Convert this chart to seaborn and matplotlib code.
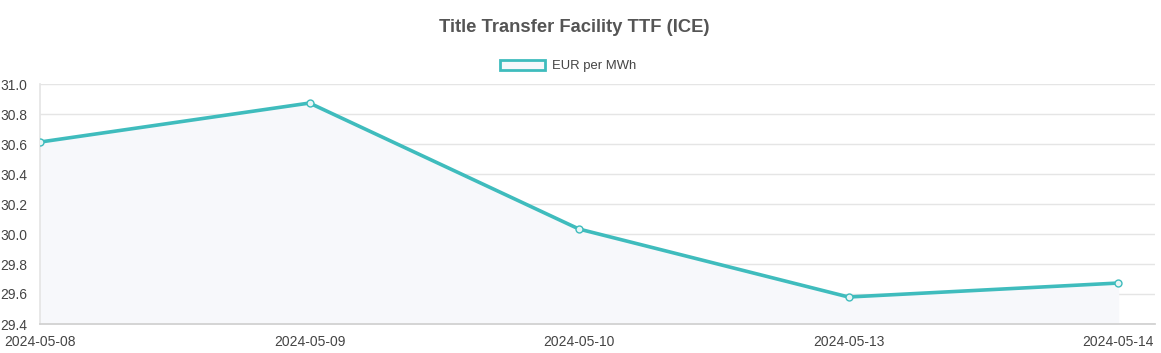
import matplotlib
matplotlib.use("Agg")
import matplotlib.pyplot as plt
import seaborn as sns
import pandas as pd
from matplotlib.patches import Patch

# values
dates = ["2024-05-08", "2024-05-09", "2024-05-10", "2024-05-13", "2024-05-14"]
eur_per_mwh = [30.613, 30.873, 30.033, 29.580, 29.673]
y_ticks = [29.4, 29.6, 29.8, 30.0, 30.2, 30.4, 30.6, 30.8, 31.0]

df = pd.DataFrame({"date": dates, "value": eur_per_mwh})
df["pos"] = range(len(df))

sns.set_theme(style="white")
plt.rcParams["font.family"] = ["Liberation Sans", "DejaVu Sans"]

teal = "#3fbcbd"
fill_col = "#f7f8fb"
txt_col = "#444444"
grid_col = "#e5e5e5"

fig = plt.figure(figsize=(11.61, 3.53), dpi=100)
ax = fig.add_axes([40 / 1161, 29 / 353, (1155 - 40) / 1161, (324 - 84) / 353])

ax.fill_between(df["pos"], df["value"], 29.4, color=fill_col, zorder=1)
sns.lineplot(data=df, x="pos", y="value", ax=ax, color=teal, linewidth=2.6,
             marker="o", markersize=5, markerfacecolor="#e8f6f6",
             markeredgecolor=teal, markeredgewidth=1, zorder=3)

ax.set_xlim(0, 4 + 37 / 269.5)
ax.set_ylim(29.4, 31.0)
ax.set_yticks(y_ticks)
ax.set_yticklabels([f"{t:.1f}" for t in y_ticks])
ax.set_xticks(df["pos"])
ax.set_xticklabels(dates)
ax.set_xlabel("")
ax.set_ylabel("")

ax.grid(axis="y", color=grid_col, linewidth=1)
ax.grid(axis="x", visible=False)
ax.tick_params(axis="y", length=7, color=grid_col, pad=2, labelsize=10, labelcolor=txt_col)
ax.tick_params(axis="x", length=0, pad=8, labelsize=10, labelcolor=txt_col)
for s in ["top", "right"]:
    ax.spines[s].set_visible(False)
ax.spines["left"].set_color(grid_col)
ax.spines["bottom"].set_color("#d0d0d0")

fig.text(574 / 1161, 1 - 28 / 353, "Title Transfer Facility TTF (ICE)",
         ha="center", va="center", fontsize=13.2, fontweight="bold", color="#555555")

handle = Patch(facecolor=fill_col, edgecolor=teal, linewidth=2)
fig.legend([handle], ["EUR per MWh"], loc="center", bbox_to_anchor=(568 / 1161, 1 - 66 / 353),
           frameon=False, fontsize=9.4, handlelength=3.5, handleheight=0.9,
           handletextpad=0.5, labelcolor=txt_col)

fig.savefig("out.png", dpi=100)
